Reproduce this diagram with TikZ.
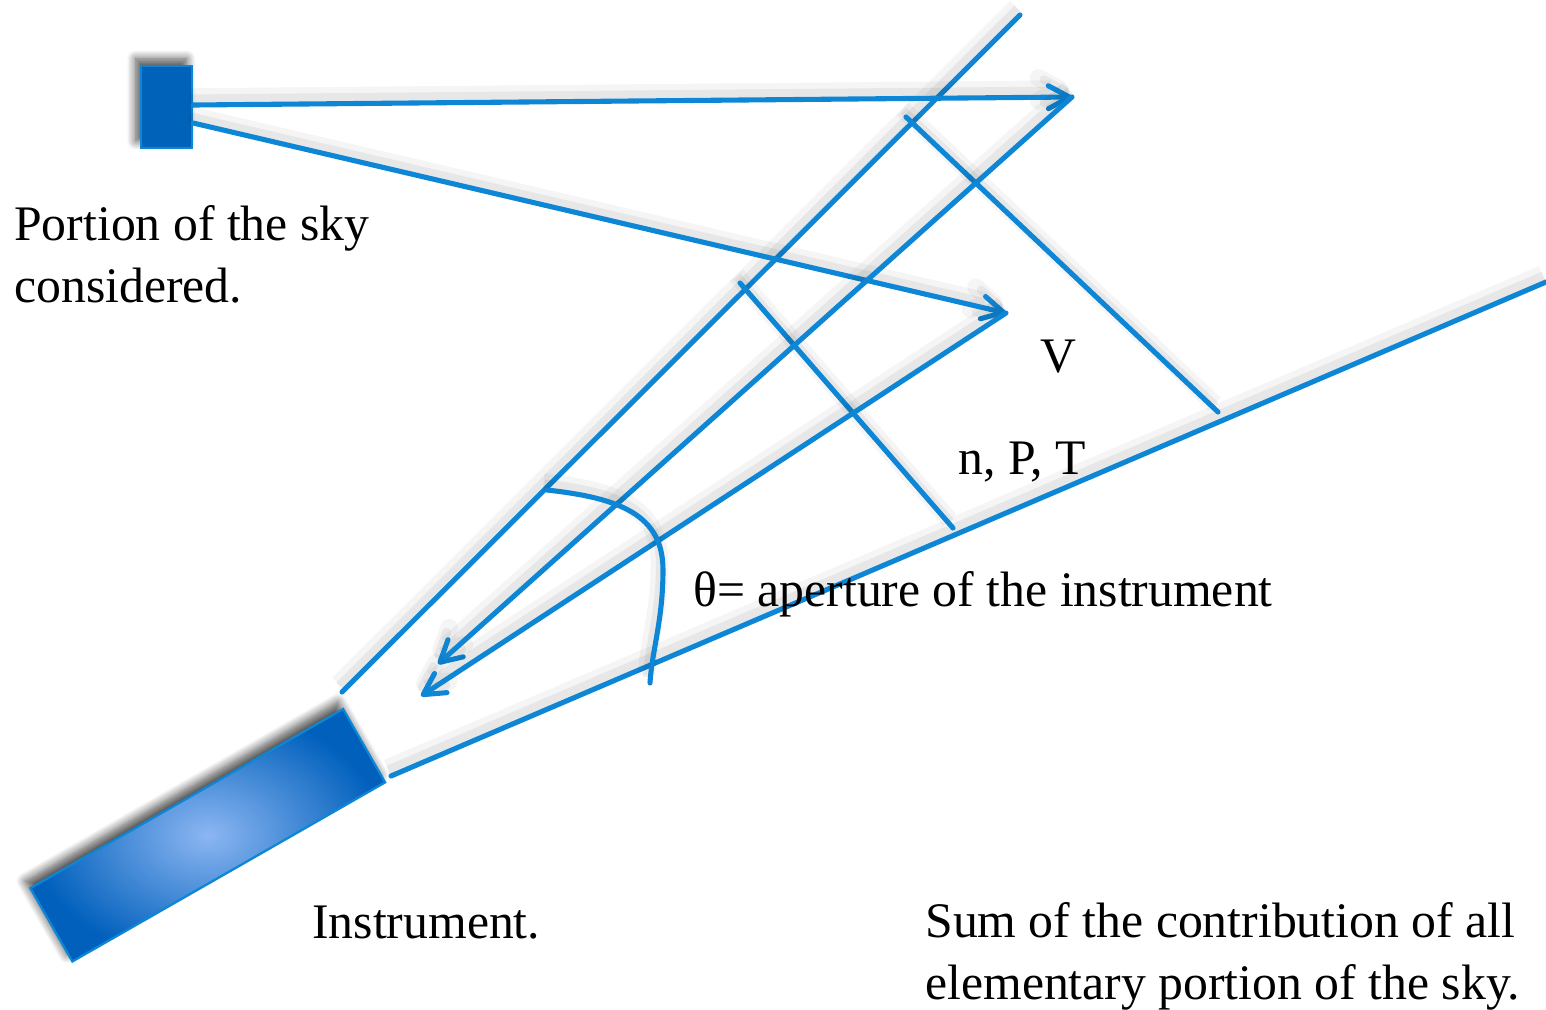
\documentclass[tikz,border=0pt]{standalone}
\usepackage{fontspec}
\setmainfont{Liberation Serif}
\usetikzlibrary{arrows.meta,shadows.blur}
\definecolor{lineblue}{RGB}{14,134,214}
\definecolor{skyfill}{RGB}{0,98,184}
\definecolor{instdark}{RGB}{0,96,188}
\definecolor{instlight}{RGB}{140,182,242}
\begin{document}
\begin{tikzpicture}[x=0.02cm,y=-0.02cm,
  ray/.style={draw=lineblue, line width=2.9pt, line cap=round,
    preaction={draw=black, opacity=0.04, line width=10pt, transform canvas={shift={(-2pt,4.5pt)}}},
    preaction={draw=black, opacity=0.06, line width=5pt, transform canvas={shift={(-1.5pt,3.5pt)}}}},
  tip/.style={-{Straight Barb[length=12pt,width=13pt,round]}},
  txt/.style={font=\fontsize{28.3}{35}\selectfont, inner sep=0pt, text=black},
  box/.style={draw=lineblue, line width=1.3pt, inner sep=0pt,
    blur shadow={shadow xshift=-3pt, shadow yshift=4pt, shadow blur radius=5pt, shadow blur steps=10, shadow opacity=70}}
]
\useasboundingbox (0,0) rectangle (1546,1009);

% points
\coordinate (A1) at (1072,97);
\coordinate (A2) at (1006,313);
\coordinate (B1) at (438,664);
\coordinate (B2) at (421,696);
\coordinate (L1) at (342,692);
\coordinate (L2) at (1020,15);
\coordinate (R1) at (391,776);
\coordinate (R2) at (1546,282);
\coordinate (C1) at (740,283);
\coordinate (C2) at (953,528);
\coordinate (D1) at (906,117);
\coordinate (D2) at (1218,412);
\coordinate (E1) at (547,490);
\coordinate (E2) at (663,570);
\coordinate (E3) at (650,683);

% sky portion
\node[box, fill=skyfill, minimum width=1.02cm, minimum height=1.64cm] (sky) at (166.5,107) {};

% instrument
\node[box, shading=radial, inner color=instlight, outer color=instdark,
  rotate=29.8, minimum width=7.21cm, minimum height=1.69cm] (instrument) at (207.75,835.25) {};

% cone edges
\draw[ray] (L1) -- (L2);
\draw[ray] (R1) -- (R2);

% cross lines
\draw[ray] (C1) -- (C2);
\draw[ray] (D1) -- (D2);

% rays
\draw[ray,tip] ([yshift=0.04cm]sky.east) -- (A1);
\draw[ray,tip] ([yshift=-0.32cm]sky.east) -- (A2);
\draw[ray,tip] (A1) -- (B1);
\draw[ray,tip] (A2) -- (B2);

% aperture arc
\draw[ray] (E1) .. controls (620,498) and (663,515) .. (E2)
  .. controls (663,620) and (652,650) .. (E3);

% texts
\node[txt, anchor=base west, align=left] (skytxt) at (14,302) {Portion of the sky\\considered.};
\node[txt] (V) at (1058,357) {V};
\node[txt, anchor=base west] (npt) at (958,474) {n, P, T};
\node[txt, anchor=base west] (theta) at (693,606) {θ= aperture of the instrument};
\node[txt, anchor=base west] (insttxt) at (312,938) {Instrument.};
\node[txt, anchor=base west, align=left] (sumtxt) at (925,999) {Sum of the contribution of all\\elementary portion of the sky.};
\end{tikzpicture}
\end{document}
